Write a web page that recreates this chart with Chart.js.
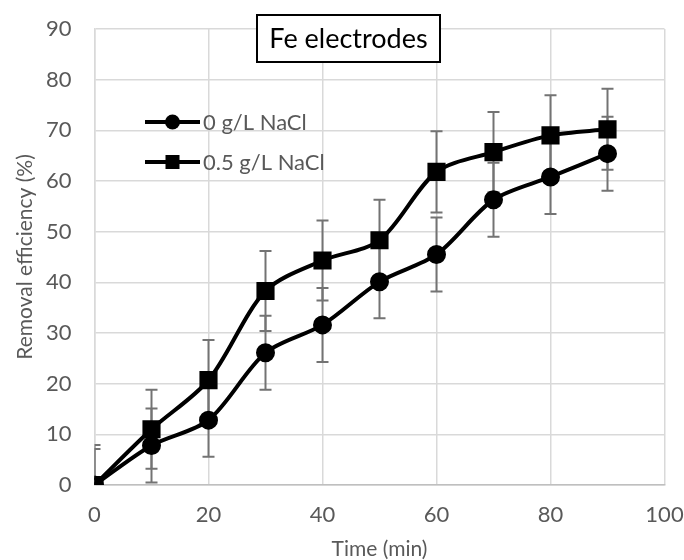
<!DOCTYPE html>
<html><head><meta charset="utf-8">
<script src="https://cdn.jsdelivr.net/npm/chart.js@4.4.1/dist/chart.umd.min.js"></script>
<style>html,body{margin:0;padding:0;background:#fff}#wrap{width:684px;height:560px}</style>
</head><body><div id="wrap"><canvas id="c" width="684" height="560"></canvas></div>
<script>
const timeMin = [0, 10, 20, 30, 40, 50, 60, 70, 80, 90];
const noSalt = [0, 7.8, 12.8, 26.1, 31.6, 40.1, 45.5, 56.3, 60.8, 65.4];
const noSaltErr = [7.1, 7.3, 7.2, 7.3, 7.3, 7.2, 7.3, 7.3, 7.3, 7.3];
const withSalt = [0, 11.0, 20.7, 38.3, 44.3, 48.3, 61.8, 65.7, 69.0, 70.2];
const withSaltErr = [7.9, 7.8, 7.9, 7.9, 7.9, 8.0, 8.0, 7.9, 7.9, 8.0];
const seriesLabels = ['0 g/L NaCl', '0.5 g/L NaCl'];
const chartTitle = 'Fe electrodes';
const xTitle = 'Time (min)';
const yTitle = 'Removal efficiency (%)';
const xRange = [0, 100, 20];
const yRange = [0, 90, 10];

const FONT = 'Lato, "Open Sans", sans-serif';
const GRAY_TEXT = '#595959';

const toXY = (ys) => ys.map((v, i) => ({x: timeMin[i], y: v}));

const errorBars = {
  id: 'errorBars',
  beforeDatasetsDraw(chart) {
    const {ctx, chartArea: a, scales: {x, y}} = chart;
    ctx.save();
    ctx.beginPath();
    ctx.rect(a.left, a.top, a.right - a.left, a.bottom - a.top);
    ctx.clip();
    ctx.strokeStyle = '#737373';
    ctx.lineWidth = 2;
    chart.data.datasets.forEach(ds => {
      ds.data.forEach((p, i) => {
        const e = ds.errs[i];
        const px = x.getPixelForValue(p.x);
        const yt = y.getPixelForValue(p.y + e);
        const yb = y.getPixelForValue(p.y - e);
        ctx.beginPath();
        ctx.moveTo(px, yt); ctx.lineTo(px, yb);
        ctx.moveTo(px - 6, yt); ctx.lineTo(px + 6, yt);
        ctx.moveTo(px - 6, yb); ctx.lineTo(px + 6, yb);
        ctx.stroke();
      });
    });
    ctx.restore();
  }
};

const overlay = {
  id: 'overlay',
  afterDraw(chart) {
    const {ctx} = chart;
    ctx.save();
    // title box
    ctx.fillStyle = '#fff';
    ctx.fillRect(257, 15, 183, 47);
    ctx.strokeStyle = '#000';
    ctx.lineWidth = 2;
    ctx.strokeRect(257, 15, 183, 47);
    ctx.fillStyle = '#000';
    ctx.font = '27px ' + FONT;
    ctx.textAlign = 'center';
    ctx.textBaseline = 'middle';
    ctx.fillText(chartTitle, 348.5, 39);
    // legend
    const ys = [122, 162];
    chart.data.datasets.forEach((ds, i) => {
      const yy = ys[i];
      ctx.strokeStyle = '#000';
      ctx.lineWidth = 4;
      ctx.beginPath();
      ctx.moveTo(145, yy); ctx.lineTo(200, yy);
      ctx.stroke();
      ctx.fillStyle = '#000';
      if (ds.pointStyle === 'rect') {
        ctx.fillRect(172.5 - 7, yy - 7, 14, 14);
      } else {
        ctx.beginPath();
        ctx.arc(172.5, yy, 7.5, 0, Math.PI * 2);
        ctx.fill();
      }
      ctx.fillStyle = GRAY_TEXT;
      ctx.font = '22px ' + FONT;
      ctx.textAlign = 'left';
      ctx.textBaseline = 'middle';
      ctx.fillText(ds.label, 203, yy + 1);
    });
    ctx.restore();
  }
};

new Chart(document.getElementById('c'), {
  type: 'line',
  data: {
    datasets: [
      {
        label: seriesLabels[0], data: toXY(noSalt), errs: noSaltErr,
        borderColor: '#000', backgroundColor: '#000', borderWidth: 4,
        pointStyle: 'circle', pointRadius: 7.5, pointHoverRadius: 7.5,
        tension: 0.3, fill: false
      },
      {
        label: seriesLabels[1], data: toXY(withSalt), errs: withSaltErr,
        borderColor: '#000', backgroundColor: '#000', borderWidth: 4,
        pointStyle: 'rect', pointRadius: 10, pointHoverRadius: 10,
        tension: 0.3, fill: false
      }
    ]
  },
  options: {
    responsive: false,
    devicePixelRatio: 1,
    animation: false,
    layout: {padding: {left: 0, right: 19.5, top: 29, bottom: 0}},
    plugins: {legend: {display: false}, tooltip: {enabled: false}, title: {display: false}},
    scales: {
      x: {
        type: 'linear', min: xRange[0], max: xRange[1],
        afterFit: s => { s.height = 75; },
        ticks: {stepSize: xRange[2], color: GRAY_TEXT, font: {family: FONT, size: 22}, padding: 0},
        grid: {color: '#d9d9d9', lineWidth: 1.5, drawTicks: true, tickLength: 17, tickColor: 'rgba(0,0,0,0)'},
        border: {color: '#bfbfbf', width: 1.5},
        title: {display: true, text: xTitle, color: GRAY_TEXT, font: {family: FONT, size: 21, lineHeight: 1}, padding: {top: 0, bottom: 0}}
      },
      y: {
        type: 'linear', min: yRange[0], max: yRange[1],
        afterFit: s => { s.width = 94.5; },
        ticks: {stepSize: yRange[2], color: GRAY_TEXT, font: {family: FONT, size: 22}, padding: 0},
        grid: {color: '#d9d9d9', lineWidth: 1.5, drawTicks: true, tickLength: 23, tickColor: 'rgba(0,0,0,0)'},
        border: {color: '#d9d9d9', width: 1.5},
        title: {display: true, text: yTitle, color: GRAY_TEXT, font: {family: FONT, size: 21}, padding: {top: 13, bottom: 0}}
      }
    }
  },
  plugins: [errorBars, overlay]
});
</script>
</body></html>
